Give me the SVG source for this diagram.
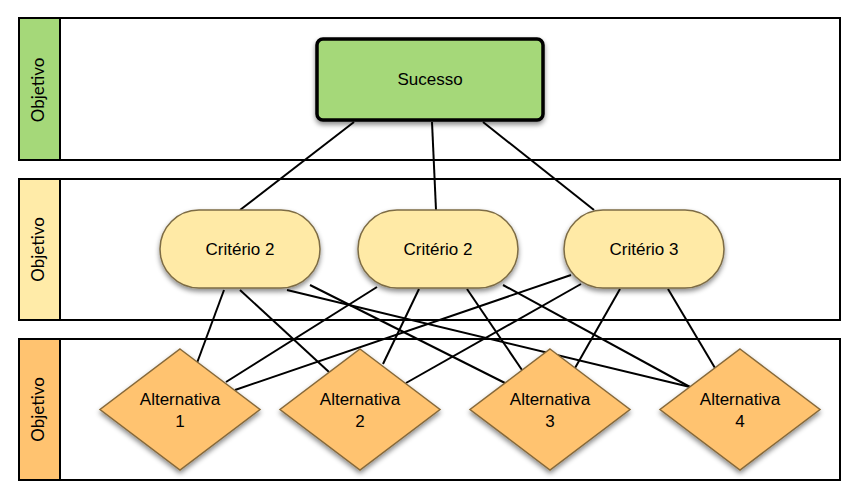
<svg xmlns="http://www.w3.org/2000/svg" width="863" height="499" viewBox="0 0 863 499">
<defs>
<filter id="sh" x="-20%" y="-20%" width="140%" height="150%">
<feDropShadow dx="0" dy="3" stdDeviation="2.5" flood-color="#000" flood-opacity="0.45"/>
</filter>
<style>
.lane{fill:#fff;stroke:#000;stroke-width:2}
.lab{font-family:Lato,"Open Sans",sans-serif;font-size:17px;fill:#000;text-anchor:middle}
.t{font-family:"Liberation Sans",Arial,sans-serif;font-size:17px;fill:#000;text-anchor:middle}
.c{stroke:#000;stroke-width:2;fill:none}
.crit{fill:#FFEAA6;stroke:#7D6C45;stroke-width:1.5}
.alt{fill:#FFC370;stroke:#86693A;stroke-width:1.5}
</style>
</defs>
<rect width="863" height="499" fill="#fff"/>
<g id="lane1">
<rect class="lane" x="19" y="18" width="821" height="142"/>
<rect x="19" y="18" width="41" height="142" fill="#A5D879" stroke="#000" stroke-width="2"/>
<text class="lab" transform="translate(44,90) rotate(-90)">Objetivo</text>
</g>
<g id="lane2">
<rect class="lane" x="19" y="179" width="821" height="141"/>
<rect x="19" y="179" width="41" height="141" fill="#FFEBA8" stroke="#000" stroke-width="2"/>
<text class="lab" transform="translate(44,249.5) rotate(-90)">Objetivo</text>
</g>
<g id="lane3">
<rect class="lane" x="19" y="339" width="821" height="141"/>
<rect x="19" y="339" width="41" height="141" fill="#FFC370" stroke="#000" stroke-width="2"/>
<text class="lab" transform="translate(44,409.5) rotate(-90)">Objetivo</text>
</g>
<g id="connectors" class="c">
<line x1="354" y1="122" x2="240" y2="210"/>
<line x1="432" y1="122" x2="436" y2="210"/>
<line x1="483" y1="122" x2="594" y2="210"/>
<line x1="224" y1="290" x2="197" y2="363"/>
<line x1="240" y1="290" x2="329" y2="372"/>
<line x1="310" y1="285" x2="505" y2="383"/>
<line x1="287" y1="290" x2="690" y2="387"/>
<line x1="377" y1="287" x2="226" y2="382"/>
<line x1="419" y1="289" x2="383" y2="364"/>
<line x1="467" y1="289" x2="522" y2="370"/>
<line x1="503" y1="285" x2="690" y2="387"/>
<line x1="571" y1="275" x2="235" y2="390"/>
<line x1="581" y1="284" x2="406" y2="383"/>
<line x1="620" y1="289" x2="575" y2="368"/>
<line x1="668" y1="289" x2="715" y2="368"/>
</g>
<g id="sucesso">
<rect x="317" y="39" width="226" height="81" rx="6" fill="#A5D879" stroke="#000" stroke-width="3.5" filter="url(#sh)"/>
<text class="t" x="430" y="85">Sucesso</text>
</g>
<g id="criterio1">
<rect class="crit" x="160" y="210" width="160" height="78" rx="39" filter="url(#sh)"/>
<text class="t" x="240" y="255">Critério 2</text>
</g>
<g id="criterio2">
<rect class="crit" x="358" y="210" width="160" height="78" rx="39" filter="url(#sh)"/>
<text class="t" x="438" y="255">Critério 2</text>
</g>
<g id="criterio3">
<rect class="crit" x="564" y="210" width="160" height="78" rx="39" filter="url(#sh)"/>
<text class="t" x="644" y="255">Critério 3</text>
</g>
<g id="alt1">
<polygon class="alt" points="180,349 260,409.5 180,470 100,409.5" filter="url(#sh)"/>
<text class="t" x="180" y="405">Alternativa</text>
<text class="t" x="180" y="426.5">1</text>
</g>
<g id="alt2">
<polygon class="alt" points="360,349 440,409.5 360,470 280,409.5" filter="url(#sh)"/>
<text class="t" x="360" y="405">Alternativa</text>
<text class="t" x="360" y="426.5">2</text>
</g>
<g id="alt3">
<polygon class="alt" points="550,349 630,409.5 550,470 470,409.5" filter="url(#sh)"/>
<text class="t" x="550" y="405">Alternativa</text>
<text class="t" x="550" y="426.5">3</text>
</g>
<g id="alt4">
<polygon class="alt" points="740,349 820,409.5 740,470 660,409.5" filter="url(#sh)"/>
<text class="t" x="740" y="405">Alternativa</text>
<text class="t" x="740" y="426.5">4</text>
</g>
</svg>
